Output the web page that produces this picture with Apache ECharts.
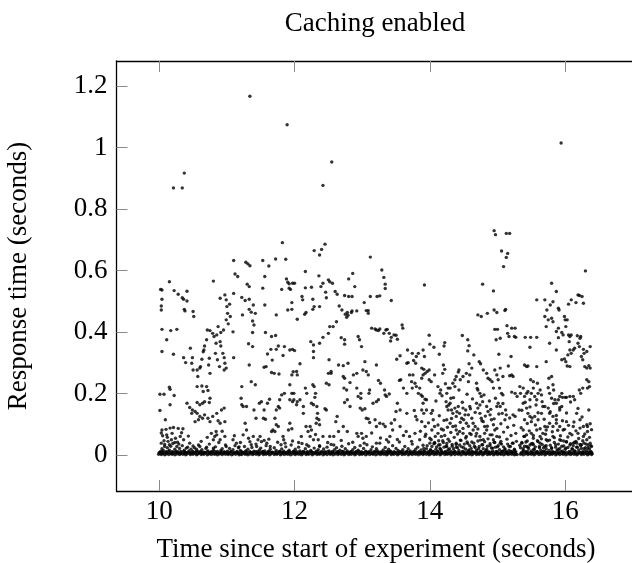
<!DOCTYPE html>
<html><head><meta charset="utf-8">
<script src="https://cdn.jsdelivr.net/npm/echarts@6/dist/echarts.min.js"></script>
<style>html,body{margin:0;padding:0;background:#fff}#c{width:632px;height:563px}</style>
</head><body><div id="c"></div>
<script>
// Chart texts and ticks
const titleText = 'Caching enabled';
const xName = 'Time since start of experiment (seconds)';
const yName = 'Response time (seconds)';
const xTicks = [10, 12, 14, 16];
const yTicks = [0, 0.2, 0.4, 0.6, 0.8, 1, 1.2];

// [time since start (s), response time (s)]
const outliers = [[11.34,1.167],[11.89,1.074],[15.94,1.015],[12.55,0.953],[10.37,0.917],[10.21,0.869],[10.34,0.869],[12.42,0.877],[14.95,0.730],[14.97,0.717],[15.13,0.721],[15.18,0.721],[15.06,0.664],[15.15,0.656],[15.13,0.643],[15.09,0.613],[11.82,0.691],[12.29,0.665],[12.40,0.669],[12.45,0.686],[12.37,0.651],[13.12,0.644],[16.30,0.599],[13.92,0.553],[11.10,0.633],[11.28,0.627],[11.31,0.622],[11.34,0.616],[11.53,0.633],[11.62,0.615],[11.72,0.638],[11.87,0.637],[12.16,0.597],[13.29,0.602],[13.32,0.578],[13.34,0.556],[13.34,0.542]];

const pts10 = [[10.02,0.539],[10.04,0.537],[10.04,0.507],[10.03,0.485],[10.03,0.472],[10.15,0.564],[10.22,0.535],[10.28,0.523],[10.34,0.512],[10.36,0.507],[10.41,0.533],[10.41,0.501],[10.37,0.474],[10.38,0.469],[10.50,0.467],[10.51,0.451],[10.04,0.409],[10.17,0.405],[10.26,0.409],[10.11,0.375],[10.04,0.337],[10.21,0.328],[10.36,0.317],[10.39,0.301],[10.46,0.348],[10.49,0.317],[10.50,0.277],[10.01,0.198],[10.07,0.198],[10.15,0.221],[10.16,0.214],[10.22,0.194],[10.16,0.164],[10.01,0.145],[10.09,0.115],[10.41,0.169],[10.45,0.155],[10.49,0.147],[10.04,0.082],[10.10,0.084],[10.16,0.088],[10.21,0.090],[10.28,0.087],[10.35,0.086],[10.05,0.063],[10.11,0.066],[10.18,0.050],[10.24,0.055],[10.31,0.061],[10.36,0.050],[10.45,0.039],[10.03,0.039],[10.08,0.028],[10.15,0.034],[10.26,0.028],[10.40,0.023],[10.50,0.030]];

const pts10h = [[10.57,0.256],[10.60,0.283],[10.63,0.312],[10.66,0.342],[10.48,0.299],[10.56,0.277],[10.61,0.288],[10.65,0.336],[10.67,0.355],[10.70,0.375],[10.71,0.407],[10.75,0.405],[10.79,0.396],[10.81,0.386],[10.85,0.391],[10.87,0.418],[10.91,0.399],[10.95,0.407],[10.90,0.369],[10.91,0.355],[10.94,0.331],[10.96,0.317],[10.97,0.299],[10.96,0.277],[10.99,0.283],[10.80,0.566],[10.90,0.510],[10.97,0.521],[10.99,0.505],[11.00,0.483],[11.04,0.491],[11.01,0.461],[10.99,0.440],[11.02,0.427],[11.05,0.451],[10.84,0.364],[10.83,0.331],[10.86,0.310],[10.89,0.288],[10.74,0.315],[10.73,0.293],[10.75,0.266],[10.56,0.223],[10.63,0.225],[10.70,0.223],[10.72,0.210],[10.65,0.207],[10.75,0.185],[10.74,0.171],[10.67,0.174],[10.64,0.169],[10.60,0.164],[10.56,0.171],[10.48,0.136],[10.53,0.142],[10.56,0.136],[10.60,0.126],[10.64,0.120],[10.67,0.131],[10.72,0.120],[10.75,0.109],[10.79,0.126],[10.85,0.136],[10.87,0.112],[10.90,0.104],[10.92,0.147],[10.96,0.153],[10.97,0.109],[10.53,0.109],[10.58,0.115],[10.77,0.071],[10.82,0.061],[10.84,0.077],[10.85,0.066],[10.80,0.050],[10.90,0.050],[10.97,0.061],[10.99,0.028],[10.80,0.023],[10.70,0.026],[10.60,0.028],[10.55,0.019]];

const pts11 = [[11.10,0.317],[11.09,0.401],[11.10,0.526],[11.12,0.589],[11.16,0.581],[11.22,0.513],[11.23,0.456],[11.27,0.503],[11.30,0.556],[11.33,0.548],[11.33,0.507],[11.33,0.474],[11.36,0.465],[11.38,0.436],[11.40,0.423],[11.38,0.399],[11.32,0.362],[11.38,0.353],[11.33,0.293],[11.36,0.239],[11.42,0.229],[11.39,0.488],[11.42,0.461],[11.53,0.543],[11.56,0.581],[11.56,0.488],[11.57,0.399],[11.60,0.329],[11.65,0.344],[11.66,0.386],[11.72,0.389],[11.58,0.288],[11.55,0.286],[11.67,0.309],[11.66,0.269],[11.70,0.266],[11.77,0.264],[11.73,0.344],[11.76,0.355],[11.22,0.223],[11.21,0.185],[11.22,0.164],[11.24,0.158],[11.29,0.158],[11.27,0.104],[11.29,0.082],[11.24,0.066],[11.32,0.055],[11.20,0.041],[11.14,0.039],[11.09,0.050],[11.40,0.147],[11.43,0.120],[11.48,0.169],[11.51,0.174],[11.55,0.147],[11.54,0.120],[11.57,0.117],[11.60,0.169],[11.63,0.182],[11.66,0.077],[11.68,0.082],[11.71,0.077],[11.71,0.120],[11.73,0.147],[11.76,0.158],[11.78,0.153],[11.73,0.099],[11.76,0.093],[11.46,0.050],[11.51,0.044],[11.55,0.048],[11.59,0.039],[11.64,0.028],[11.44,0.028],[11.39,0.061],[11.34,0.044]];

const pts11h = [[11.81,0.539],[11.88,0.573],[11.90,0.562],[11.92,0.557],[11.92,0.543],[11.97,0.559],[11.96,0.474],[11.90,0.472],[11.96,0.496],[11.94,0.539],[12.00,0.559],[11.73,0.456],[11.83,0.324],[11.85,0.353],[11.93,0.342],[11.97,0.344],[12.00,0.340],[12.04,0.442],[12.08,0.297],[11.98,0.271],[11.96,0.261],[12.03,0.272],[12.04,0.261],[11.93,0.229],[11.96,0.201],[11.99,0.201],[11.93,0.180],[11.97,0.174],[11.99,0.180],[12.03,0.164],[12.04,0.174],[12.08,0.180],[11.93,0.104],[11.96,0.086],[11.91,0.082],[11.83,0.061],[11.84,0.050],[11.86,0.039],[11.85,0.201],[11.81,0.196],[11.78,0.180]];

const pts12 = [[12.11,0.516],[12.12,0.505],[12.16,0.544],[12.17,0.464],[12.15,0.458],[12.25,0.546],[12.27,0.474],[12.27,0.507],[12.29,0.483],[12.24,0.369],[12.28,0.358],[12.28,0.337],[12.28,0.317],[12.36,0.583],[12.37,0.483],[12.37,0.364],[12.42,0.383],[12.42,0.559],[12.39,0.548],[12.50,0.570],[12.52,0.564],[12.46,0.530],[12.47,0.512],[12.56,0.559],[12.52,0.418],[12.50,0.396],[12.51,0.310],[12.50,0.266],[12.54,0.272],[12.47,0.234],[12.51,0.229],[12.54,0.266],[12.16,0.218],[12.18,0.201],[12.27,0.229],[12.29,0.223],[12.31,0.201],[12.30,0.188],[12.25,0.169],[12.28,0.164],[12.33,0.158],[12.34,0.136],[12.33,0.120],[12.36,0.115],[12.32,0.104],[12.37,0.099],[12.23,0.093],[12.25,0.082],[12.20,0.077],[12.13,0.158],[12.13,0.136],[12.17,0.093],[12.10,0.061],[12.23,0.061],[12.28,0.050],[12.35,0.050],[12.42,0.061],[12.45,0.151],[12.47,0.147],[12.37,0.028]];

const pts12h = [[12.60,0.532],[12.63,0.523],[12.66,0.485],[12.70,0.472],[12.74,0.519],[12.80,0.573],[12.86,0.591],[12.80,0.516],[12.78,0.464],[12.75,0.458],[12.77,0.448],[12.84,0.464],[12.89,0.548],[12.85,0.516],[12.85,0.469],[12.92,0.469],[12.79,0.455],[12.57,0.418],[12.62,0.434],[12.69,0.382],[12.74,0.375],[12.74,0.361],[12.65,0.293],[12.72,0.291],[12.79,0.299],[12.72,0.256],[12.74,0.250],[12.82,0.236],[12.73,0.218],[12.77,0.212],[12.74,0.171],[12.78,0.180],[12.82,0.158],[12.87,0.261],[12.92,0.266],[12.92,0.218],[12.98,0.201],[12.94,0.191],[12.98,0.185],[12.63,0.126],[12.61,0.109],[12.65,0.077],[12.58,0.061],[12.52,0.061],[12.72,0.093],[12.78,0.077],[12.92,0.071],[12.94,0.061],[12.99,0.071],[13.01,0.055]];

const pts13 = [[12.94,0.386],[12.96,0.375],[12.99,0.353],[13.03,0.496],[13.06,0.470],[13.09,0.470],[13.09,0.461],[13.12,0.516],[13.22,0.516],[13.26,0.518],[13.14,0.413],[13.19,0.410],[13.21,0.407],[13.24,0.405],[13.26,0.410],[13.43,0.503],[13.32,0.396],[13.35,0.407],[13.37,0.409],[13.40,0.396],[13.43,0.383],[13.47,0.391],[13.50,0.390],[13.52,0.377],[13.42,0.371],[13.04,0.304],[13.01,0.277],[13.06,0.272],[13.09,0.261],[13.21,0.293],[13.24,0.243],[13.27,0.234],[13.33,0.212],[13.34,0.196],[13.36,0.191],[13.40,0.199],[13.11,0.212],[13.10,0.201],[13.21,0.174],[13.24,0.180],[13.16,0.169],[12.97,0.153],[13.00,0.147],[13.04,0.151],[13.06,0.120],[13.09,0.118],[13.11,0.106],[13.19,0.115],[13.21,0.093],[13.26,0.104],[13.31,0.101],[13.34,0.093],[13.43,0.104],[13.45,0.082],[13.48,0.115],[13.06,0.061],[13.21,0.039],[13.36,0.050],[13.41,0.061]];

const pts13h = [[13.51,0.312],[13.56,0.323],[13.59,0.423],[13.60,0.413],[13.67,0.342],[13.66,0.299],[13.68,0.301],[13.74,0.331],[13.76,0.308],[13.80,0.321],[13.79,0.299],[13.83,0.331],[13.90,0.342],[13.92,0.321],[13.99,0.390],[14.00,0.361],[14.06,0.351],[14.14,0.328],[14.21,0.355],[14.22,0.366],[13.55,0.243],[13.57,0.245],[13.61,0.218],[13.66,0.201],[13.70,0.261],[13.75,0.261],[13.78,0.234],[13.74,0.218],[13.73,0.239],[13.80,0.223],[13.85,0.218],[13.88,0.250],[13.90,0.261],[13.93,0.266],[13.88,0.283],[13.91,0.279],[13.96,0.272],[13.99,0.277],[13.83,0.201],[13.87,0.196],[13.89,0.191],[13.93,0.182],[13.95,0.180],[13.90,0.169],[13.52,0.169],[13.56,0.147],[13.50,0.142],[13.66,0.136],[13.77,0.145],[13.79,0.126],[13.88,0.147],[13.91,0.136],[13.95,0.147],[13.81,0.115],[13.88,0.109],[13.93,0.093],[13.56,0.093],[13.65,0.077],[13.70,0.061],[13.78,0.071],[13.85,0.050],[13.93,0.061],[14.00,0.039]];

const pts14 = [[13.99,0.245],[14.02,0.239],[14.07,0.261],[14.12,0.223],[14.16,0.212],[14.15,0.201],[14.19,0.266],[14.20,0.293],[14.22,0.279],[14.25,0.201],[14.27,0.218],[14.30,0.218],[14.31,0.185],[14.34,0.234],[14.37,0.245],[14.37,0.223],[14.39,0.256],[14.42,0.270],[14.43,0.277],[14.45,0.245],[14.49,0.256],[14.54,0.266],[14.57,0.239],[14.59,0.261],[14.62,0.283],[14.58,0.297],[14.48,0.389],[14.56,0.375],[14.58,0.356],[14.56,0.339],[14.65,0.326],[14.71,0.456],[14.73,0.304],[14.75,0.297],[14.24,0.174],[14.25,0.158],[14.27,0.147],[14.30,0.169],[14.32,0.147],[14.34,0.136],[14.37,0.153],[14.39,0.126],[14.42,0.158],[14.44,0.136],[14.47,0.120],[14.49,0.153],[14.50,0.115],[14.53,0.147],[14.54,0.104],[14.57,0.131],[14.59,0.158],[14.62,0.120],[14.25,0.115],[14.30,0.104],[14.34,0.093],[14.39,0.082],[14.44,0.077],[14.49,0.071],[14.54,0.061],[14.59,0.071],[14.64,0.082],[14.02,0.136],[14.05,0.115],[14.07,0.093],[14.12,0.071],[14.17,0.061],[14.20,0.082],[14.02,0.050],[14.07,0.039],[14.15,0.034],[14.25,0.028],[14.39,0.039]];

const pts14h = [[14.69,0.234],[14.71,0.212],[14.74,0.201],[14.76,0.191],[14.78,0.174],[14.79,0.277],[14.84,0.266],[14.86,0.250],[14.89,0.245],[14.92,0.239],[14.94,0.218],[14.96,0.277],[14.99,0.261],[15.01,0.245],[15.03,0.218],[15.06,0.201],[15.08,0.196],[15.04,0.158],[15.07,0.136],[15.11,0.115],[15.13,0.131],[14.69,0.169],[14.71,0.153],[14.74,0.136],[14.76,0.120],[14.79,0.109],[14.81,0.093],[14.84,0.158],[14.86,0.142],[14.89,0.131],[14.91,0.115],[14.94,0.099],[14.96,0.082],[14.99,0.158],[15.01,0.169],[14.67,0.093],[14.69,0.071],[14.74,0.061],[14.79,0.050],[14.84,0.082],[14.89,0.066],[14.94,0.050],[14.99,0.061],[15.04,0.039],[14.76,0.451],[14.78,0.556],[14.85,0.461],[14.94,0.534],[14.95,0.472],[14.99,0.464],[14.96,0.409],[15.00,0.409],[14.98,0.375],[15.02,0.328],[15.04,0.380],[15.11,0.470],[15.12,0.474],[15.14,0.421],[15.15,0.396],[15.17,0.386],[15.21,0.413],[15.26,0.413],[15.20,0.321],[15.25,0.386],[15.27,0.383],[15.04,0.283],[15.08,0.256],[15.16,0.290],[15.18,0.258],[15.21,0.261],[15.23,0.256],[15.26,0.201],[15.29,0.191]];

const pts15 = [[15.23,0.131],[15.26,0.126],[15.32,0.147],[15.33,0.223],[15.38,0.218],[15.40,0.293],[15.43,0.288],[15.45,0.290],[15.41,0.383],[15.49,0.383],[15.48,0.351],[15.58,0.383],[15.58,0.505],[15.34,0.201],[15.40,0.191],[15.43,0.201],[15.45,0.207],[15.48,0.180],[15.50,0.201],[15.53,0.218],[15.55,0.191],[15.58,0.180],[15.60,0.201],[15.63,0.212],[15.65,0.196],[15.67,0.158],[15.59,0.234],[15.58,0.288],[15.53,0.239],[15.49,0.245],[15.38,0.169],[15.43,0.153],[15.45,0.136],[15.40,0.115],[15.48,0.126],[15.50,0.109],[15.55,0.126],[15.60,0.115],[15.65,0.136],[15.38,0.082],[15.40,0.061],[15.43,0.066],[15.50,0.071],[15.53,0.055],[15.58,0.082],[15.63,0.061],[15.67,0.071],[15.36,0.039],[15.43,0.028],[15.53,0.034],[15.63,0.039]];

const pts15h = [[15.70,0.505],[15.73,0.472],[15.78,0.488],[15.80,0.559],[15.82,0.499],[15.87,0.532],[15.90,0.478],[15.91,0.472],[15.70,0.451],[15.72,0.418],[15.75,0.440],[15.77,0.364],[15.80,0.445],[15.82,0.434],[15.90,0.413],[15.87,0.402],[15.87,0.342],[15.90,0.382],[15.95,0.399],[15.97,0.391],[15.99,0.451],[16.00,0.440],[16.01,0.418],[16.03,0.440],[16.05,0.391],[16.07,0.386],[16.09,0.391],[16.06,0.369],[15.95,0.310],[15.99,0.313],[16.01,0.304],[16.03,0.290],[16.07,0.288],[16.04,0.326],[16.07,0.342],[16.09,0.331],[16.12,0.342],[16.14,0.348],[16.19,0.364],[16.22,0.380],[15.72,0.304],[15.76,0.250],[15.80,0.256],[15.82,0.229],[15.83,0.212],[15.77,0.201],[15.80,0.185],[15.85,0.180],[15.87,0.169],[15.90,0.180],[15.92,0.191],[15.95,0.201],[15.96,0.188],[16.00,0.188],[16.02,0.188],[16.07,0.191],[16.12,0.191],[16.14,0.180],[15.70,0.158],[15.75,0.153],[15.77,0.136],[15.82,0.126],[15.87,0.115],[15.92,0.147],[15.95,0.158],[15.70,0.093],[15.72,0.082],[15.77,0.104],[15.82,0.093],[15.87,0.104],[15.92,0.093],[15.97,0.082],[16.02,0.109],[16.07,0.071],[16.12,0.093],[15.72,0.050],[15.82,0.061],[15.92,0.050],[16.02,0.044],[16.12,0.039]];

const pts16 = [[16.05,0.491],[16.09,0.505],[16.16,0.496],[16.19,0.521],[16.21,0.519],[16.25,0.516],[16.27,0.494],[16.18,0.388],[16.23,0.386],[16.21,0.353],[16.27,0.344],[16.28,0.331],[16.24,0.321],[16.26,0.310],[16.32,0.337],[16.37,0.353],[16.29,0.288],[16.32,0.283],[16.35,0.291],[16.37,0.283],[16.32,0.245],[16.35,0.239],[16.36,0.223],[16.33,0.218],[16.26,0.218],[16.23,0.201],[16.21,0.212],[16.35,0.147],[16.32,0.099],[16.33,0.093],[16.37,0.102],[16.17,0.136],[16.22,0.115],[16.27,0.093],[16.19,0.071],[16.27,0.061],[16.32,0.050],[16.17,0.039],[16.24,0.034],[16.37,0.039]];

const dense14 = [[13.91,0.022],[13.94,0.068],[13.96,0.031],[13.98,0.105],[14.0,0.055],[14.01,0.018],[14.03,0.082],[14.04,0.145],[14.06,0.037],[14.08,0.061],[14.09,0.176],[14.1,0.027],[14.12,0.098],[14.13,0.047],[14.14,0.128],[14.16,0.019],[14.17,0.085],[14.18,0.193],[14.2,0.041],[14.21,0.113],[14.22,0.064],[14.23,0.232],[14.24,0.029],[14.26,0.091],[14.27,0.052],[14.28,0.163],[14.29,0.021],[14.31,0.074],[14.32,0.119],[14.33,0.035],[14.35,0.187],[14.36,0.058],[14.38,0.095],[14.39,0.026],[14.4,0.141],[14.41,0.069],[14.43,0.212],[14.44,0.033],[14.45,0.107],[14.46,0.048],[14.48,0.172],[14.49,0.087],[14.5,0.024],[14.52,0.131],[14.53,0.056],[14.55,0.198],[14.56,0.038],[14.57,0.094],[14.58,0.017],[14.6,0.151],[14.61,0.067]];

const dense15 = [[14.62,0.043],[14.63,0.183],[14.64,0.104],[14.66,0.029],[14.67,0.139],[14.68,0.062],[14.7,0.217],[14.71,0.085],[14.72,0.021],[14.74,0.163],[14.75,0.049],[14.77,0.112],[14.78,0.034],[14.8,0.196],[14.81,0.071],[14.82,0.127],[14.84,0.019],[14.85,0.094],[14.86,0.053],[14.88,0.176],[14.89,0.031],[14.9,0.149],[14.92,0.066],[14.93,0.023],[14.95,0.118],[14.96,0.041],[14.97,0.185],[14.99,0.087],[15.0,0.027],[15.02,0.134],[15.03,0.059],[15.05,0.102],[15.06,0.036],[15.08,0.168],[15.09,0.075],[15.11,0.018],[15.12,0.147],[15.14,0.052],[15.15,0.091],[15.17,0.029],[15.18,0.121],[15.2,0.064],[15.21,0.205],[15.22,0.039],[15.24,0.097],[15.25,0.017],[15.27,0.071],[15.28,0.045]];

const dense16 = [[15.33,0.032],[15.35,0.089],[15.36,0.146],[15.38,0.021],[15.39,0.061],[15.41,0.172],[15.42,0.043],[15.44,0.103],[15.45,0.026],[15.47,0.079],[15.48,0.157],[15.5,0.037],[15.51,0.121],[15.53,0.064],[15.54,0.019],[15.56,0.098],[15.57,0.163],[15.59,0.047],[15.6,0.138],[15.62,0.028],[15.63,0.086],[15.65,0.053],[15.66,0.174],[15.68,0.024],[15.69,0.117],[15.71,0.068],[15.72,0.031],[15.74,0.092],[15.75,0.219],[15.77,0.049],[15.78,0.141],[15.8,0.022],[15.81,0.076],[15.83,0.168],[15.84,0.057],[15.86,0.034],[15.87,0.129],[15.89,0.081],[15.9,0.018],[15.92,0.154],[15.93,0.063],[15.95,0.029],[15.96,0.112],[15.98,0.046],[15.99,0.084],[16.01,0.023],[16.02,0.137],[16.04,0.059],[16.05,0.097],[16.07,0.033],[16.08,0.173],[16.1,0.066],[16.11,0.019],[16.13,0.108],[16.14,0.042],[16.16,0.079],[16.17,0.026],[16.19,0.152],[16.2,0.054],[16.22,0.088],[16.23,0.031],[16.25,0.124],[16.26,0.047],[16.28,0.021],[16.29,0.069],[16.31,0.036],[16.33,0.077],[16.34,0.024],[16.36,0.058],[16.38,0.031],[16.39,0.083]];

const lowExtra = [[10.03,0.072],[10.07,0.047],[10.12,0.058],[10.19,0.071],[10.23,0.041],[10.29,0.036],[10.33,0.073],[10.43,0.062],[10.62,0.045],[10.71,0.058],[10.93,0.078],[11.11,0.063],[11.18,0.027],[11.36,0.034],[11.49,0.061],[11.62,0.052],[11.8,0.034],[11.97,0.046],[12.06,0.041],[12.18,0.034],[12.31,0.067],[12.49,0.041],[12.58,0.033],[12.69,0.048],[12.86,0.042],[13.03,0.039],[13.14,0.072],[13.27,0.056],[13.39,0.043],[13.52,0.051],[13.61,0.064],[13.73,0.045],[13.86,0.078]];

const lowZone = [[10.02,0.012],[10.04,0.021],[10.06,0.015],[10.08,0.035],[10.1,0.011],[10.12,0.024],[10.13,0.045],[10.15,0.016],[10.17,0.029],[10.19,0.011],[10.2,0.038],[10.23,0.019],[10.25,0.013],[10.27,0.042],[10.3,0.022],[10.32,0.012],[10.34,0.031],[10.37,0.016],[10.39,0.009],[10.42,0.026],[10.44,0.014],[10.47,0.019],[10.49,0.011],[10.52,0.024],[10.55,0.013],[10.58,0.033],[10.61,0.012],[10.63,0.018],[10.66,0.01],[10.69,0.022],[10.72,0.014],[10.74,0.036],[10.77,0.011],[10.8,0.017],[10.83,0.027],[10.86,0.012],[10.88,0.041],[10.91,0.015],[10.93,0.021],[10.96,0.011],[10.98,0.033],
[11.01,0.013],[11.04,0.022],[11.06,0.011],[11.09,0.018],[11.12,0.031],[11.15,0.012],[11.17,0.024],[11.2,0.015],[11.23,0.01],[11.26,0.028],[11.28,0.014],[11.31,0.019],[11.34,0.011],[11.37,0.025],[11.4,0.013],[11.43,0.036],[11.45,0.012],[11.48,0.017],[11.5,0.023],[11.53,0.011],[11.56,0.014],[11.58,0.031],[11.61,0.012],[11.64,0.019],[11.67,0.01],[11.7,0.024],[11.73,0.015],[11.75,0.042],[11.78,0.012],[11.81,0.02],[11.84,0.013],[11.87,0.027],[11.9,0.011],[11.92,0.016],[11.95,0.033],[11.98,0.012],
[12.01,0.019],[12.03,0.011],[12.06,0.026],[12.08,0.014],[12.11,0.038],[12.13,0.012],[12.16,0.021],[12.19,0.011],[12.21,0.029],[12.24,0.015],[12.26,0.01],[12.29,0.023],[12.32,0.013],[12.35,0.018],[12.37,0.031],[12.4,0.012],[12.43,0.02],[12.45,0.011],[12.48,0.026],[12.51,0.014],[12.54,0.035],[12.56,0.012],[12.59,0.018],[12.62,0.024],[12.64,0.011],[12.67,0.016],[12.7,0.029],[12.72,0.012],[12.75,0.021],[12.78,0.014],[12.8,0.037],[12.83,0.011],[12.86,0.018],[12.89,0.025],[12.91,0.012],[12.94,0.016],[12.97,0.031],[12.99,0.011],
[13.02,0.022],[13.05,0.013],[13.07,0.034],[13.1,0.011],[13.13,0.018],[13.15,0.027],[13.18,0.012],[13.21,0.021],[13.23,0.014],[13.26,0.039],[13.29,0.011],[13.31,0.017],[13.34,0.025],[13.37,0.012],[13.39,0.019],[13.42,0.013],[13.45,0.031],[13.47,0.011],[13.5,0.022],[13.53,0.015],[13.55,0.043],[13.58,0.012],[13.6,0.018],[13.63,0.028],[13.66,0.011],[13.68,0.021],[13.71,0.014],[13.74,0.036],[13.76,0.012],[13.79,0.019],[13.82,0.026],[13.84,0.011],[13.87,0.017],[13.9,0.032],[13.92,0.013],[13.95,0.021],[13.98,0.011],
[14.01,0.016],[14.03,0.028],[14.05,0.012],[14.07,0.041],[14.09,0.019],[14.11,0.011],[14.13,0.033],[14.15,0.022],[14.17,0.014],[14.19,0.047],[14.21,0.026],[14.23,0.012],[14.25,0.038],[14.27,0.018],[14.29,0.045],[14.31,0.013],[14.33,0.029],[14.35,0.021],[14.37,0.011],[14.39,0.035],[14.41,0.024],[14.43,0.015],[14.45,0.049],[14.47,0.027],[14.49,0.012],[14.51,0.036],[14.53,0.019],[14.55,0.043],[14.57,0.014],[14.59,0.031],[14.61,0.022],[14.63,0.011],[14.65,0.039],[14.67,0.025],[14.69,0.016],[14.71,0.046],[14.73,0.028],[14.75,0.013],[14.77,0.034],[14.79,0.021],[14.81,0.044],[14.83,0.015],[14.85,0.029],[14.87,0.011],[14.89,0.037],[14.91,0.023],[14.93,0.014],[14.95,0.042],[14.97,0.026],[14.99,0.012],
[15.01,0.031],[15.03,0.018],[15.05,0.045],[15.07,0.013],[15.09,0.027],[15.11,0.021],[15.13,0.011],[15.15,0.036],[15.17,0.016],[15.19,0.028],[15.21,0.012],[15.23,0.039],[15.25,0.019],[15.27,0.011],[15.34,0.024],[15.36,0.041],[15.38,0.015],[15.4,0.029],[15.42,0.012],[15.44,0.046],[15.46,0.022],[15.48,0.033],[15.5,0.014],[15.52,0.038],[15.54,0.019],[15.56,0.027],[15.58,0.011],[15.6,0.044],[15.62,0.024],[15.64,0.016],[15.66,0.035],[15.68,0.013],[15.7,0.029],[15.72,0.021],[15.74,0.047],[15.76,0.015],[15.78,0.032],[15.8,0.024],[15.82,0.011],[15.84,0.041],[15.86,0.026],[15.88,0.017],[15.9,0.036],[15.92,0.022],[15.94,0.048],[15.96,0.013],[15.98,0.03],
[16.0,0.019],[16.02,0.043],[16.04,0.025],[16.06,0.012],[16.08,0.037],[16.1,0.021],[16.12,0.031],[16.14,0.014],[16.16,0.045],[16.18,0.026],[16.2,0.017],[16.22,0.035],[16.24,0.022],[16.26,0.011],[16.28,0.039],[16.3,0.024],[16.32,0.015],[16.34,0.033],[16.36,0.02],[16.38,0.012],[16.39,0.028]];

const baseBand = [[9.99,0.003],[10.01,0.006],[10.03,0.002],[10.05,0.005],[10.08,0.001],[10.1,0.004],[10.12,0.007],[10.14,0.002],[10.17,0.005],[10.19,0.003],[10.21,0.006],[10.23,0.001],[10.26,0.004],[10.28,0.007],[10.3,0.002],[10.32,0.005],[10.35,0.003],[10.37,0.006],[10.39,0.001],[10.41,0.004],[10.44,0.007],[10.46,0.002],[10.48,0.005],[10.5,0.003],[10.53,0.006],[10.55,0.001],[10.57,0.004],[10.59,0.007],[10.62,0.002],[10.64,0.005],[10.66,0.003],[10.68,0.006],[10.71,0.001],[10.73,0.004],[10.75,0.007],[10.77,0.002],[10.8,0.005],[10.82,0.003],[10.84,0.006],[10.86,0.001],[10.89,0.004],[10.91,0.007],[10.93,0.002],[10.95,0.005],[10.98,0.003],
[11.0,0.006],[11.02,0.002],[11.04,0.005],[11.07,0.001],[11.09,0.004],[11.11,0.007],[11.13,0.003],[11.16,0.006],[11.18,0.001],[11.2,0.004],[11.22,0.002],[11.25,0.006],[11.27,0.003],[11.29,0.005],[11.31,0.001],[11.34,0.004],[11.36,0.007],[11.38,0.002],[11.4,0.005],[11.43,0.003],[11.45,0.006],[11.47,0.001],[11.49,0.004],[11.52,0.007],[11.54,0.002],[11.56,0.005],[11.58,0.003],[11.61,0.006],[11.63,0.001],[11.65,0.004],[11.67,0.007],[11.7,0.002],[11.72,0.005],[11.74,0.003],[11.76,0.006],[11.79,0.001],[11.81,0.004],[11.83,0.007],[11.85,0.002],[11.88,0.005],[11.9,0.003],[11.92,0.006],[11.94,0.001],[11.97,0.004],[11.99,0.007],
[12.01,0.002],[12.03,0.005],[12.06,0.003],[12.08,0.006],[12.1,0.001],[12.12,0.004],[12.15,0.007],[12.17,0.002],[12.19,0.005],[12.21,0.003],[12.24,0.006],[12.26,0.001],[12.28,0.004],[12.3,0.007],[12.33,0.002],[12.35,0.005],[12.37,0.003],[12.39,0.006],[12.42,0.001],[12.44,0.004],[12.46,0.007],[12.48,0.002],[12.51,0.005],[12.53,0.003],[12.55,0.006],[12.57,0.001],[12.6,0.004],[12.62,0.007],[12.64,0.002],[12.66,0.005],[12.69,0.003],[12.71,0.006],[12.73,0.001],[12.75,0.004],[12.78,0.007],[12.8,0.002],[12.82,0.005],[12.84,0.003],[12.87,0.006],[12.89,0.001],[12.91,0.004],[12.93,0.007],[12.96,0.002],[12.98,0.005],
[13.0,0.003],[13.02,0.006],[13.05,0.001],[13.07,0.004],[13.09,0.007],[13.11,0.002],[13.14,0.005],[13.16,0.003],[13.18,0.006],[13.2,0.001],[13.23,0.004],[13.25,0.007],[13.27,0.002],[13.29,0.005],[13.32,0.003],[13.34,0.006],[13.36,0.001],[13.38,0.004],[13.41,0.007],[13.43,0.002],[13.45,0.005],[13.47,0.003],[13.5,0.006],[13.52,0.001],[13.54,0.004],[13.56,0.007],[13.59,0.002],[13.61,0.005],[13.63,0.003],[13.65,0.006],[13.68,0.001],[13.7,0.004],[13.72,0.007],[13.74,0.002],[13.77,0.005],[13.79,0.003],[13.81,0.006],[13.83,0.001],[13.86,0.004],[13.88,0.007],[13.9,0.002],[13.92,0.005],[13.95,0.003],[13.97,0.006],[13.99,0.001],
[14.01,0.004],[14.04,0.007],[14.06,0.002],[14.08,0.005],[14.1,0.003],[14.13,0.006],[14.15,0.001],[14.17,0.004],[14.19,0.007],[14.22,0.002],[14.24,0.005],[14.26,0.003],[14.28,0.006],[14.31,0.001],[14.33,0.004],[14.35,0.007],[14.37,0.002],[14.4,0.005],[14.42,0.003],[14.44,0.006],[14.46,0.001],[14.49,0.004],[14.51,0.007],[14.53,0.002],[14.55,0.005],[14.58,0.003],[14.6,0.006],[14.62,0.001],[14.64,0.004],[14.67,0.007],[14.69,0.002],[14.71,0.005],[14.73,0.003],[14.76,0.006],[14.78,0.001],[14.8,0.004],[14.82,0.007],[14.85,0.002],[14.87,0.005],[14.89,0.003],[14.91,0.006],[14.94,0.001],[14.96,0.004],[14.98,0.007],
[15.0,0.002],[15.03,0.005],[15.05,0.003],[15.07,0.006],[15.09,0.001],[15.12,0.004],[15.14,0.007],[15.16,0.002],[15.18,0.005],[15.21,0.003],[15.23,0.006],[15.25,0.001],[15.27,0.004],[15.29,0.002],[15.34,0.003],[15.36,0.006],[15.38,0.001],[15.41,0.004],[15.43,0.007],[15.45,0.002],[15.47,0.005],[15.5,0.003],[15.52,0.006],[15.54,0.001],[15.56,0.004],[15.59,0.007],[15.61,0.002],[15.63,0.005],[15.65,0.003],[15.68,0.006],[15.7,0.001],[15.72,0.004],[15.74,0.007],[15.77,0.002],[15.79,0.005],[15.81,0.003],[15.83,0.006],[15.86,0.001],[15.88,0.004],[15.9,0.007],[15.92,0.002],[15.95,0.005],[15.97,0.003],[15.99,0.006],
[16.01,0.001],[16.04,0.004],[16.06,0.007],[16.08,0.002],[16.1,0.005],[16.13,0.003],[16.15,0.006],[16.17,0.001],[16.19,0.004],[16.22,0.007],[16.24,0.002],[16.26,0.005],[16.28,0.003],[16.31,0.006],[16.33,0.001],[16.35,0.004],[16.37,0.007],[16.39,0.002],[16.4,0.005]];

const baseBand2 = [[10.0,0.009],[10.04,0.011],[10.07,0.008],[10.11,0.01],[10.14,0.012],[10.18,0.008],[10.21,0.01],[10.25,0.009],[10.28,0.011],[10.32,0.008],[10.36,0.012],[10.39,0.009],[10.43,0.01],[10.46,0.008],[10.5,0.011],[10.53,0.009],[10.57,0.012],[10.6,0.008],[10.64,0.01],[10.68,0.009],[10.71,0.011],[10.75,0.008],[10.78,0.01],[10.82,0.012],[10.85,0.009],[10.89,0.008],[10.92,0.011],[10.96,0.009],[10.99,0.01],
[11.03,0.008],[11.06,0.012],[11.1,0.009],[11.14,0.01],[11.17,0.008],[11.21,0.011],[11.24,0.009],[11.28,0.012],[11.31,0.008],[11.35,0.01],[11.38,0.009],[11.42,0.011],[11.46,0.008],[11.49,0.01],[11.53,0.012],[11.56,0.009],[11.6,0.008],[11.63,0.011],[11.67,0.009],[11.71,0.01],[11.74,0.008],[11.78,0.012],[11.81,0.009],[11.85,0.01],[11.88,0.008],[11.92,0.011],[11.95,0.009],[11.99,0.012],
[12.02,0.008],[12.06,0.01],[12.1,0.009],[12.13,0.011],[12.17,0.008],[12.2,0.01],[12.24,0.012],[12.27,0.009],[12.31,0.008],[12.34,0.011],[12.38,0.009],[12.42,0.01],[12.45,0.008],[12.49,0.012],[12.52,0.009],[12.56,0.01],[12.59,0.008],[12.63,0.011],[12.66,0.009],[12.7,0.012],[12.74,0.008],[12.77,0.01],[12.81,0.009],[12.84,0.011],[12.88,0.008],[12.91,0.01],[12.95,0.012],[12.98,0.009],
[13.02,0.008],[13.06,0.011],[13.09,0.009],[13.13,0.01],[13.16,0.008],[13.2,0.012],[13.23,0.009],[13.27,0.01],[13.3,0.008],[13.34,0.011],[13.38,0.009],[13.41,0.012],[13.45,0.008],[13.48,0.01],[13.52,0.009],[13.55,0.011],[13.59,0.008],[13.62,0.01],[13.66,0.012],[13.7,0.009],[13.73,0.008],[13.77,0.011],[13.8,0.009],[13.84,0.01],[13.87,0.008],[13.91,0.012],[13.94,0.009],[13.98,0.01],
[14.02,0.008],[14.05,0.011],[14.09,0.009],[14.12,0.012],[14.16,0.008],[14.19,0.01],[14.23,0.009],[14.26,0.011],[14.3,0.008],[14.34,0.01],[14.37,0.012],[14.41,0.009],[14.44,0.008],[14.48,0.011],[14.51,0.009],[14.55,0.01],[14.58,0.008],[14.62,0.012],[14.66,0.009],[14.69,0.01],[14.73,0.008],[14.76,0.011],[14.8,0.009],[14.83,0.012],[14.87,0.008],[14.9,0.01],[14.94,0.009],[14.98,0.011],
[15.01,0.008],[15.05,0.01],[15.08,0.012],[15.12,0.009],[15.15,0.008],[15.19,0.011],[15.22,0.009],[15.26,0.01],[15.35,0.008],[15.38,0.011],[15.42,0.009],[15.45,0.012],[15.49,0.008],[15.52,0.01],[15.56,0.009],[15.59,0.011],[15.63,0.008],[15.66,0.01],[15.7,0.012],[15.73,0.009],[15.77,0.008],[15.8,0.011],[15.84,0.009],[15.87,0.01],[15.91,0.008],[15.94,0.012],[15.98,0.009],
[16.01,0.01],[16.05,0.008],[16.08,0.011],[16.12,0.009],[16.15,0.012],[16.19,0.008],[16.22,0.01],[16.26,0.009],[16.29,0.011],[16.33,0.008],[16.36,0.01],[16.39,0.009]];

const allPoints = [].concat(outliers, pts10, pts10h, pts11, pts11h, pts12, pts12h, pts13, pts13h, pts14, pts14h, pts15, pts15h, pts16, dense14, dense15, dense16, lowExtra, lowZone, baseBand, baseBand2);

const FONT = 'Liberation Serif';
const X_MIN = 9.368, X_MAX = 17.04, Y_MIN = -0.1165, Y_MAX = 1.2815;
const chart = echarts.init(document.getElementById('c'), null, {renderer: 'canvas'});
const fmt = v => String(Number(v.toFixed(1)));
const tickStyle = {show: true, inside: true, length: 11, lineStyle: {color: '#8a8a8a', width: 1}};
chart.setOption({
  animation: false,
  backgroundColor: '#fff',
  title: {text: titleText, left: 375, top: 10, textAlign: 'center', padding: 0,
    textStyle: {fontFamily: FONT, fontSize: 27, fontWeight: 'normal', color: '#000'}},
  grid: {left: 116.5, top: 61, width: 519, height: 430, containLabel: false, outerBoundsMode: 'none'},
  xAxis: [{
    type: 'value', min: X_MIN, max: X_MAX, position: 'bottom',
    name: xName, nameLocation: 'middle', nameGap: 45,
    nameTextStyle: {fontFamily: FONT, fontSize: 27, color: '#000'},
    axisLine: {show: true, onZero: false, lineStyle: {color: '#000', width: 1.3}},
    axisTick: Object.assign({customValues: xTicks}, tickStyle),
    axisLabel: {customValues: xTicks, margin: 7, fontFamily: FONT, fontSize: 27, color: '#000', formatter: fmt},
    splitLine: {show: false}
  }, {
    type: 'value', min: X_MIN, max: X_MAX, position: 'top',
    axisLine: {show: true, onZero: false, lineStyle: {color: '#000', width: 1.3}},
    axisTick: Object.assign({customValues: xTicks}, tickStyle),
    axisLabel: {show: false}, splitLine: {show: false}
  }],
  yAxis: [{
    type: 'value', min: Y_MIN, max: Y_MAX, position: 'left',
    name: yName, nameLocation: 'middle', nameGap: 84,
    nameTextStyle: {fontFamily: FONT, fontSize: 27, color: '#000'},
    axisLine: {show: true, onZero: false, lineStyle: {color: '#000', width: 1.3}},
    axisTick: Object.assign({customValues: yTicks}, tickStyle),
    axisLabel: {customValues: yTicks, margin: 9, fontFamily: FONT, fontSize: 27, color: '#000', formatter: fmt},
    splitLine: {show: false}
  }],
  series: [{
    type: 'scatter', xAxisIndex: 0, yAxisIndex: 0,
    data: allPoints, symbol: 'circle', symbolSize: 3.4,
    itemStyle: {color: '#000'}, large: false, silent: true
  }]
});
</script></body></html>
